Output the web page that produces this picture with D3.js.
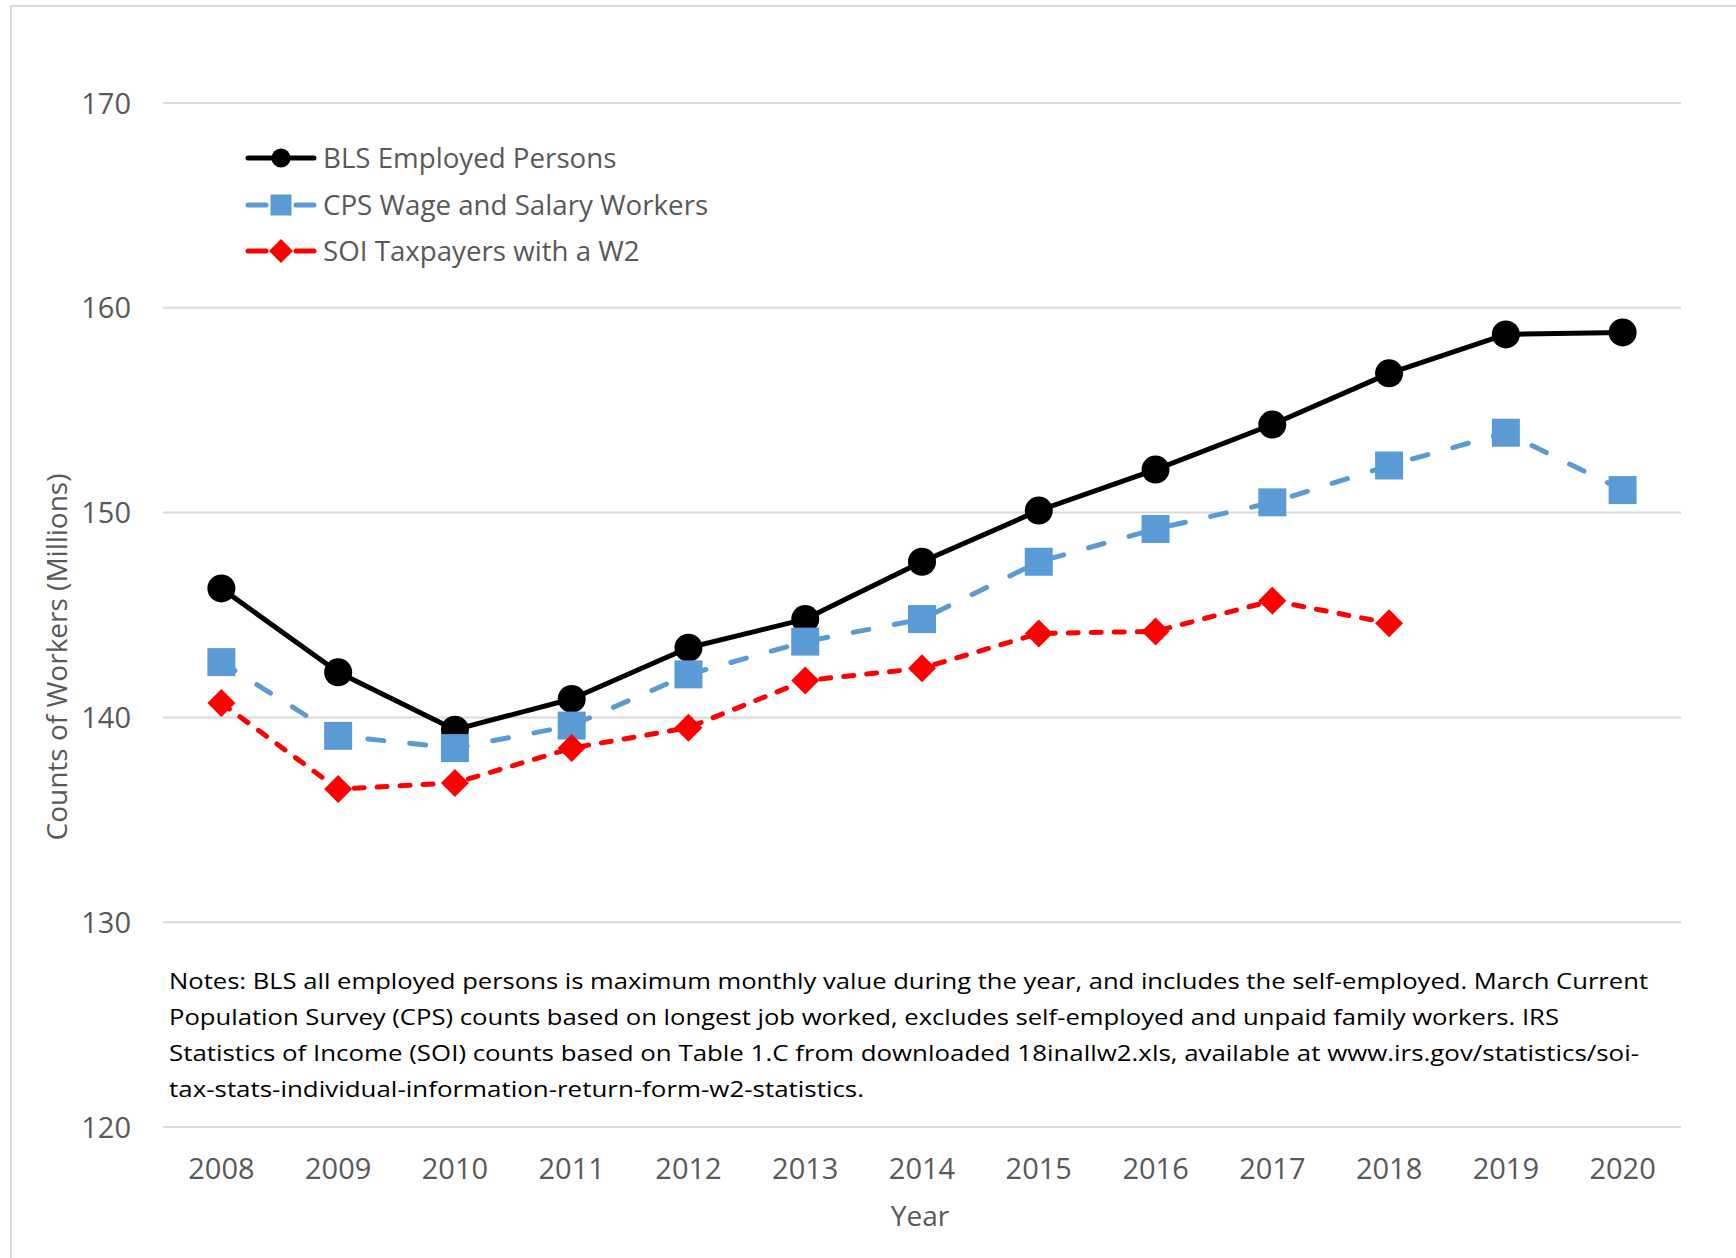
<!DOCTYPE html>
<html>
<head>
<meta charset="utf-8">
<script src="https://cdn.jsdelivr.net/npm/d3@7"></script>
<style>
  html, body { margin: 0; padding: 0; background: #fff; }
  svg { display: block; }
</style>
</head>
<body>
<svg id="chart" width="1736" height="1258"></svg>
<script>
// Worker counts by year, in millions
const years = ["2008","2009","2010","2011","2012","2013","2014","2015","2016","2017","2018","2019","2020"];
const blsEmployed = [146.3, 142.2, 139.4, 140.9, 143.4, 144.8, 147.6, 150.1, 152.1, 154.3, 156.8, 158.7, 158.8];
const cpsWageSalary = [142.7, 139.1, 138.5, 139.6, 142.1, 143.7, 144.8, 147.6, 149.2, 150.5, 152.3, 153.9, 151.1];
const soiW2 = [140.7, 136.5, 136.8, 138.5, 139.5, 141.8, 142.4, 144.1, 144.2, 145.7, 144.6, null, null];
const yTicks = [120, 130, 140, 150, 160, 170];
const seriesNames = ["BLS Employed Persons", "CPS Wage and Salary Workers", "SOI Taxpayers with a W2"];
const noteLines = [
  "Notes: BLS all employed persons is maximum monthly value during the year, and includes the self-employed. March Current",
  "Population Survey (CPS) counts based on longest job worked, excludes self-employed and unpaid family workers. IRS",
  "Statistics of Income (SOI) counts based on Table 1.C from downloaded 18inallw2.xls, available at www.irs.gov/statistics/soi-",
  "tax-stats-individual-information-return-form-w2-statistics."
];

const svg = d3.select("#chart");
const textColor = "#595959";
const font = "'Open Sans', 'Noto Sans', sans-serif";

// chart frame
svg.append("rect")
  .attr("x", 11).attr("y", 6).attr("width", 1760).attr("height", 1300)
  .attr("fill", "#fff").attr("stroke", "#d9d9d9").attr("stroke-width", 2);

const x = d3.scaleBand().domain(years).range([163, 1681]);
const y = d3.scaleLinear().domain([120, 170]).range([1127, 103]);
const cx = d => x(d) + x.bandwidth() / 2;

// gridlines
svg.append("g").selectAll("line").data(yTicks).join("line")
  .attr("x1", 163).attr("x2", 1681)
  .attr("y1", d => y(d)).attr("y2", d => y(d))
  .attr("stroke", "#d9d9d9").attr("stroke-width", 2);

// y axis labels
const yAxis = svg.append("g").attr("transform", "translate(131,0)")
  .call(d3.axisLeft(y).tickValues(yTicks).tickSize(0).tickPadding(0));
yAxis.select(".domain").remove();
yAxis.selectAll("text")
  .attr("fill", textColor).attr("font-family", font).attr("font-size", 29)
  .attr("dy", "0.35em");

// x axis labels
const xAxis = svg.append("g").attr("transform", "translate(0,1169)")
  .call(d3.axisBottom(x).tickSize(0).tickPadding(0));
xAxis.select(".domain").remove();
xAxis.selectAll("text")
  .attr("fill", textColor).attr("font-family", font).attr("font-size", 29)
  .attr("dy", "0.35em");

// axis titles
svg.append("text").attr("x", 920).attr("y", 1216).attr("dy", "0.35em")
  .attr("text-anchor", "middle").attr("fill", textColor)
  .attr("font-family", font).attr("font-size", 28).text("Year");
svg.append("text")
  .attr("transform", "translate(57,657) rotate(-90)")
  .attr("dy", "0.35em").attr("text-anchor", "middle").attr("fill", textColor)
  .attr("font-family", font).attr("font-size", 28).text("Counts of Workers (Millions)");

// series definitions
const series = [
  { name: seriesNames[0], values: blsEmployed, color: "#000000", dash: null, marker: "circle" },
  { name: seriesNames[1], values: cpsWageSalary, color: "#5b9bd5", dash: "16,26", marker: "square" },
  { name: seriesNames[2], values: soiW2, color: "#ff0000", dash: "10,13", marker: "diamond" }
];

function markerPath(type, s) {
  if (type === "circle") return d3.symbol(d3.symbolCircle, Math.PI * s * s)();
  if (type === "square") return `M${-s},${-s}H${s}V${s}H${-s}Z`;
  return `M0,${-s}L${s},0L0,${s}L${-s},0Z`;
}
const markerSize = { circle: 14, square: 14, diamond: 14 };

const line = d3.line()
  .defined(d => d.v != null)
  .x(d => cx(d.year)).y(d => y(d.v));

series.forEach(s => {
  const pts = years.map((yr, i) => ({ year: yr, v: s.values[i] }));
  const g = svg.append("g");
  g.append("path").datum(pts)
    .attr("d", line)
    .attr("fill", "none").attr("stroke", s.color).attr("stroke-width", 5)
    .attr("stroke-linecap", "round").attr("stroke-linejoin", "round")
    .attr("stroke-dasharray", s.dash);
  g.selectAll("path.mk").data(pts.filter(d => d.v != null)).join("path")
    .attr("class", "mk")
    .attr("transform", d => `translate(${cx(d.year)},${y(d.v)})`)
    .attr("d", markerPath(s.marker, markerSize[s.marker]))
    .attr("fill", s.color);
});

// legend
const legend = svg.append("g").attr("transform", "translate(246,0)");
const legendRows = [158, 205, 251];
const legendMarker = { circle: 9.5, square: 10.5, diamond: 12 };
series.forEach((s, i) => {
  const row = legend.append("g").attr("transform", `translate(0,${legendRows[i]})`);
  const seg = (a, b) => row.append("line").attr("x1", a).attr("x2", b)
    .attr("stroke", s.color).attr("stroke-width", 5).attr("stroke-linecap", "round");
  if (s.dash) { seg(2, 20); seg(50, 68); } else { seg(2, 68); }
  row.append("path").attr("transform", "translate(35,0)")
    .attr("d", markerPath(s.marker, legendMarker[s.marker])).attr("fill", s.color);
  row.append("text").attr("x", 77).attr("dy", "0.35em")
    .attr("fill", textColor).attr("font-family", font).attr("font-size", 27.7)
    .text(s.name);
});

// notes block
const noteWidths = [1479, 1390, 1470, 695];
svg.append("g").selectAll("text").data(noteLines).join("text")
  .attr("x", 169).attr("y", (d, i) => 989 + i * 36)
  .attr("fill", "#000").attr("font-family", font).attr("font-size", 22.5)
  .attr("textLength", (d, i) => noteWidths[i]).attr("lengthAdjust", "spacingAndGlyphs")
  .text(d => d);
</script>
</body>
</html>
